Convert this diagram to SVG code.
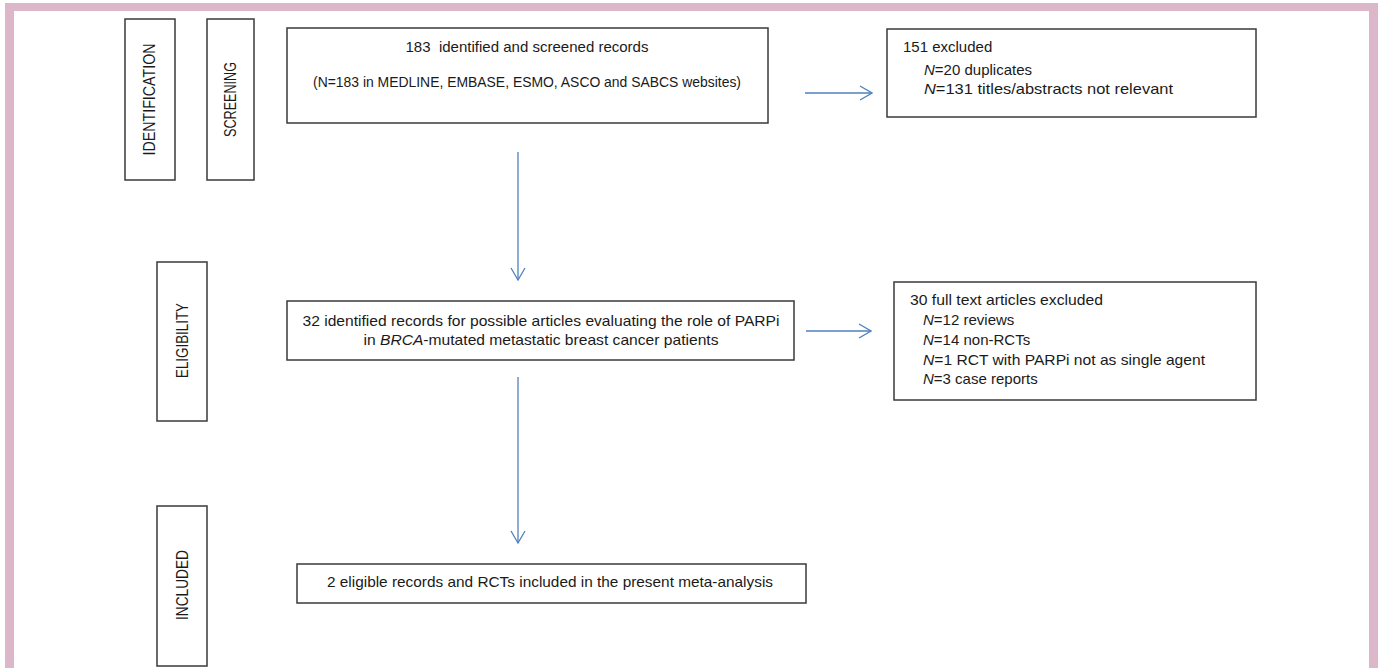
<svg xmlns="http://www.w3.org/2000/svg" width="1378" height="668" viewBox="0 0 1378 668">
  <defs>
    <style>
      .frame { fill: #dbb7c9; }
      .box { fill: #ffffff; stroke: #3a3a3a; stroke-width: 1.5; }
      .t { font-family: "Liberation Sans", Arial, sans-serif; font-size: 15px; fill: #1a1a1a; }
      .lab { font-family: "Liberation Sans", Arial, sans-serif; font-size: 16px; fill: #1a1a1a; }
      .it { font-style: italic; }
      .conn { fill: none; stroke: #4f81bd; stroke-width: 1.3; }
    </style>
    <marker id="arr" viewBox="0 0 14 16" refX="13" refY="8" markerWidth="14" markerHeight="16" markerUnits="userSpaceOnUse" orient="auto">
      <path d="M1,1 L13,8 L1,15" fill="none" stroke="#4f81bd" stroke-width="1.3"/>
    </marker>
  </defs>

  <rect x="0" y="0" width="1378" height="668" fill="#ffffff"/>
  <path class="frame" d="M5,3 H1378 V668 H1369 V11 H14 V668 H5 Z"/>

  <g id="stage-identification">
    <rect class="box" x="125" y="19" width="50" height="161"/>
    <text class="lab" transform="translate(155,99.5) rotate(-90)" text-anchor="middle" textLength="112" lengthAdjust="spacingAndGlyphs">IDENTIFICATION</text>
  </g>
  <g id="stage-screening">
    <rect class="box" x="207" y="19" width="47" height="161"/>
    <text class="lab" transform="translate(236,99.5) rotate(-90)" text-anchor="middle" textLength="75" lengthAdjust="spacingAndGlyphs">SCREENING</text>
  </g>
  <g id="stage-eligibility">
    <rect class="box" x="157" y="262" width="50" height="159"/>
    <text class="lab" transform="translate(188,340.5) rotate(-90)" text-anchor="middle" textLength="75" lengthAdjust="spacingAndGlyphs">ELIGIBILITY</text>
  </g>
  <g id="stage-included">
    <rect class="box" x="157" y="506" width="50" height="160"/>
    <text class="lab" transform="translate(188,585) rotate(-90)" text-anchor="middle" textLength="70" lengthAdjust="spacingAndGlyphs">INCLUDED</text>
  </g>

  <g id="node-screened">
    <rect class="box" x="287" y="28" width="481" height="95"/>
    <text class="t" x="527" y="52" text-anchor="middle" textLength="243" lengthAdjust="spacingAndGlyphs" xml:space="preserve">183  identified and screened records</text>
    <text class="t" x="527" y="87" text-anchor="middle" textLength="428" lengthAdjust="spacingAndGlyphs">(N=183 in MEDLINE, EMBASE, ESMO, ASCO and SABCS websites)</text>
  </g>

  <g id="node-excluded1">
    <rect class="box" x="887" y="29" width="369" height="88"/>
    <text class="t" x="903" y="52">151 excluded</text>
    <text class="t" x="924" y="75"><tspan class="it">N</tspan>=20 duplicates</text>
    <text class="t" x="924" y="94" textLength="249" lengthAdjust="spacingAndGlyphs"><tspan class="it">N</tspan>=131 titles/abstracts not relevant</text>
  </g>

  <g id="node-eligible">
    <rect class="box" x="287" y="301" width="507" height="59"/>
    <text class="t" x="541" y="326" text-anchor="middle" textLength="477" lengthAdjust="spacingAndGlyphs">32 identified records for possible articles evaluating the role of PARPi</text>
    <text class="t" x="541" y="345" text-anchor="middle" textLength="355" lengthAdjust="spacingAndGlyphs">in <tspan class="it">BRCA</tspan>-mutated metastatic breast cancer patients</text>
  </g>

  <g id="node-excluded2">
    <rect class="box" x="894" y="282" width="362" height="118"/>
    <text class="t" x="910" y="305" textLength="193" lengthAdjust="spacingAndGlyphs">30 full text articles excluded</text>
    <text class="t" x="923" y="325"><tspan class="it">N</tspan>=12 reviews</text>
    <text class="t" x="923" y="345"><tspan class="it">N</tspan>=14 non-RCTs</text>
    <text class="t" x="923" y="365" textLength="282" lengthAdjust="spacingAndGlyphs"><tspan class="it">N</tspan>=1 RCT with PARPi not as single agent</text>
    <text class="t" x="923" y="384"><tspan class="it">N</tspan>=3 case reports</text>
  </g>

  <g id="node-included">
    <rect class="box" x="297" y="564" width="509" height="39"/>
    <text class="t" x="550" y="587" text-anchor="middle" textLength="446" lengthAdjust="spacingAndGlyphs">2 eligible records and RCTs included in the present meta-analysis</text>
  </g>

  <g id="connectors">
    <line class="conn" x1="805" y1="93" x2="872" y2="93" marker-end="url(#arr)"/>
    <line class="conn" x1="518" y1="152" x2="518" y2="280" marker-end="url(#arr)"/>
    <line class="conn" x1="806" y1="331" x2="871" y2="331" marker-end="url(#arr)"/>
    <line class="conn" x1="518" y1="377" x2="518" y2="543" marker-end="url(#arr)"/>
  </g>
</svg>
